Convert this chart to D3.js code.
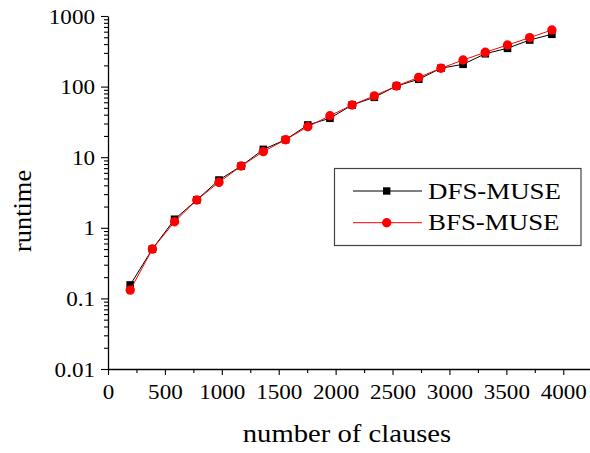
<!DOCTYPE html>
<html>
<head>
<meta charset="utf-8">
<script src="https://cdn.jsdelivr.net/npm/d3@7"></script>
<style>
  body { margin: 0; background: #fff; }
  text { font-family: "Liberation Serif", "Times New Roman", serif; fill: #000; }
</style>
</head>
<body>
<div class="chart"></div>
<script>
// number of clauses (x) and runtime for each method
var clauses = [195, 390, 585, 780, 975, 1170, 1365, 1560, 1755, 1950,
  2145, 2340, 2535, 2730, 2925, 3120, 3315, 3510, 3705, 3900];
var dfs = [0.155, 0.5, 1.32, 2.48, 4.75, 7.5, 12.9, 17.7, 28.6, 35.6,
  54.9, 70.5, 102, 127, 182, 207, 292, 349, 457, 551];
var bfs = [0.131, 0.5, 1.22, 2.48, 4.41, 7.5, 12.0, 17.7, 27.0, 38.7,
  54.9, 74, 102, 135, 182, 238, 306, 388, 493, 634];

var xMajor = [0, 500, 1000, 1500, 2000, 2500, 3000, 3500, 4000];
var xMinor = [250, 750, 1250, 1750, 2250, 2750, 3250, 3750];
var yMajor = [0.01, 0.1, 1, 10, 100, 1000];
var yLabels = ["0.01", "0.1", "1", "10", "100", "1000"];
var seriesNames = ["DFS-MUSE", "BFS-MUSE"];

var width = 590;
var height = 453;
var serif = '"Liberation Serif", "Times New Roman", serif';

var svg = d3.select(".chart").append("svg")
    .attr("width", width)
    .attr("height", height)
    .attr("display", "block");

var x = d3.scaleLinear().domain([0, 4235]).range([108, 590]);
var y = d3.scaleLog().domain([0.01, 1000]).range([369, 16]);

// minor ticks on the log axis: 2..9 in each decade
var yMinor = [];
yMajor.slice(0, -1).forEach(function(d) {
  for (var k = 2; k < 10; k++) yMinor.push(d * k);
});

// x axis
svg.append("g")
    .attr("transform", "translate(0," + y(0.01) + ")")
    .call(d3.axisBottom(x).tickValues(xMinor).tickSize(4).tickSizeOuter(0).tickFormat(""))
    .call(function(g) { g.select(".domain").remove(); });

var gx = svg.append("g")
    .attr("transform", "translate(0," + y(0.01) + ")")
    .call(d3.axisBottom(x).tickValues(xMajor).tickSize(6).tickSizeOuter(0).tickFormat(d3.format("d")))
    .attr("font-family", serif);
gx.selectAll("text")
    .attr("y", 30).attr("dy", 0)
    .attr("transform", "scale(1.1,1)")
    .style("font-size", "21px");

// y axis
svg.append("g")
    .attr("transform", "translate(" + x(0) + ",0)")
    .call(d3.axisLeft(y).tickValues(yMinor).tickSize(4).tickSizeOuter(0).tickFormat(""))
    .call(function(g) { g.select(".domain").remove(); });

var gy = svg.append("g")
    .attr("transform", "translate(" + x(0) + ",0)")
    .call(d3.axisLeft(y).tickValues(yMajor).tickSize(7).tickSizeOuter(0)
      .tickFormat(function(d, i) { return yLabels[i]; }))
    .attr("font-family", serif);
gy.selectAll("text")
    .attr("x", -13 / 1.1).attr("dy", "0.34em")
    .attr("transform", "scale(1.1,1)")
    .style("font-size", "21px");

svg.selectAll(".domain").attr("stroke-width", 1.3);
svg.selectAll(".tick line").attr("stroke-width", 1.1);

// axis titles
svg.append("text")
    .attr("transform", "translate(347,442) scale(1.17,1)")
    .attr("text-anchor", "middle")
    .style("font-size", "24.5px")
    .text("number of clauses");

svg.append("text")
    .attr("transform", "translate(31,211) rotate(-90) scale(1.08,1)")
    .attr("text-anchor", "middle")
    .style("font-size", "24.5px")
    .text("runtime");

// lines and markers
var line = d3.line()
    .x(function(d) { return x(d[0]); })
    .y(function(d) { return y(d[1]); });

var dfsPts = d3.zip(clauses, dfs);
var bfsPts = d3.zip(clauses, bfs);

svg.append("path").datum(dfsPts)
    .attr("d", line).attr("fill", "none").attr("stroke", "#000").attr("stroke-width", 1);
svg.selectAll(".sq").data(dfsPts).enter().append("rect")
    .attr("class", "sq")
    .attr("x", function(d) { return x(d[0]) - 3.8; })
    .attr("y", function(d) { return y(d[1]) - 3.8; })
    .attr("width", 7.6).attr("height", 7.6)
    .attr("fill", "#000");

svg.append("path").datum(bfsPts)
    .attr("d", line).attr("fill", "none").attr("stroke", "#ff0000").attr("stroke-width", 1);
svg.selectAll(".dot").data(bfsPts).enter().append("circle")
    .attr("class", "dot")
    .attr("cx", function(d) { return x(d[0]); })
    .attr("cy", function(d) { return y(d[1]); })
    .attr("r", 4.7)
    .attr("fill", "#ff0000");

// legend
var legend = svg.append("g");
legend.append("rect")
    .attr("x", 334.5).attr("y", 168.5)
    .attr("width", 246.5).attr("height", 77)
    .attr("fill", "#fff").attr("stroke", "#444").attr("stroke-width", 1.2);

var rows = [191, 222.7];
legend.append("line").attr("x1", 353).attr("x2", 422).attr("y1", rows[0]).attr("y2", rows[0])
    .attr("stroke", "#000").attr("stroke-width", 1);
legend.append("rect").attr("x", 383).attr("y", rows[0] - 3.7).attr("width", 7.4).attr("height", 7.4)
    .attr("fill", "#000");
legend.append("line").attr("x1", 353).attr("x2", 422).attr("y1", rows[1]).attr("y2", rows[1])
    .attr("stroke", "#ff0000").attr("stroke-width", 1);
legend.append("circle").attr("cx", 386.7).attr("cy", rows[1]).attr("r", 4.7)
    .attr("fill", "#ff0000");

legend.selectAll(".lab").data(seriesNames).enter().append("text")
    .attr("class", "lab")
    .attr("transform", function(d, i) { return "translate(428," + (rows[i] + 7.7) + ") scale(1.17,1)"; })
    .style("font-size", "23px")
    .text(function(d) { return d; });
</script>
</body>
</html>
